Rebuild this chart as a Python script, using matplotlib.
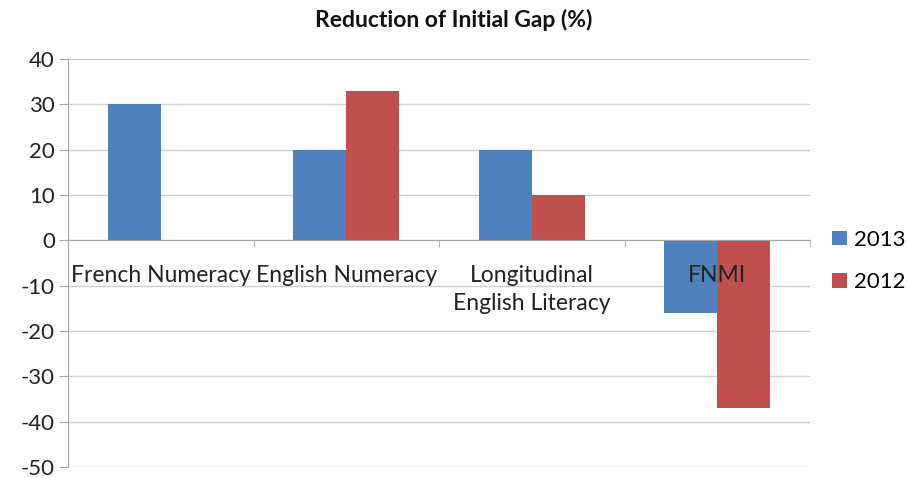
import numpy as np
import matplotlib.pyplot as plt

categories = ["French Numeracy", "English Numeracy", "Longitudinal\nEnglish Literacy", "FNMI"]
series_names = ["2013", "2012"]
values_2013 = [30, 20, 20, -16]
values_2012 = [np.nan, 33, 10, -37]
y_ticks = [40, 30, 20, 10, 0, -10, -20, -30, -40, -50]

BLUE = "#4f81bd"
RED = "#c0504d"
GRID = "#d0d0d0"
AXIS = "#a6a6a6"

plt.rcParams["font.family"] = ["Lato", "DejaVu Sans"]

fig = plt.figure(figsize=(9.07, 4.78), dpi=100)
ax = fig.add_axes([68 / 907, 11 / 478, 742 / 907, 408 / 478])

x = np.arange(len(categories))
w = 0.286
ax.bar(x - w / 2, values_2013, w, color=BLUE, label=series_names[0], zorder=1)
ax.bar(x + w / 2, values_2012, w, color=RED, label=series_names[1], zorder=1)

ax.set_xlim(-0.5, len(categories) - 0.5)
ax.set_ylim(-50, 40)
ax.set_yticks(y_ticks)
ax.set_yticklabels([str(v) for v in y_ticks], fontsize=16, color="#222222")
for v in y_ticks:
    ax.axhline(v, color=GRID, linewidth=1, zorder=0.5)

ax.spines["top"].set_visible(False)
ax.spines["right"].set_visible(False)
ax.spines["left"].set_color(AXIS)
ax.spines["bottom"].set_position(("data", 0))
ax.spines["bottom"].set_color(AXIS)
ax.tick_params(axis="y", length=6.5, color=AXIS, pad=3)

ax.set_xticks(x)
ax.set_xticklabels(categories, fontsize=16.5, color="#222222", linespacing=1.4)
ax.tick_params(axis="x", length=0, pad=18)
ax.set_xticks(np.arange(-0.5, len(categories)), minor=True)
ax.tick_params(axis="x", which="minor", length=5, color=AXIS)

ax.set_axisbelow(False)

fig.text(0.5, 1 - 20 / 478, "Reduction of Initial Gap (%)", ha="center", va="center",
         fontsize=16.5, fontweight="bold", color="#111111")

ax.legend(loc="center left", bbox_to_anchor=(1.0, 0.505), frameon=False,
          fontsize=16, handlelength=0.65, handleheight=0.65, handletextpad=0.35,
          labelspacing=1.0, borderaxespad=0.6)

fig.savefig("out.png", dpi=100)
